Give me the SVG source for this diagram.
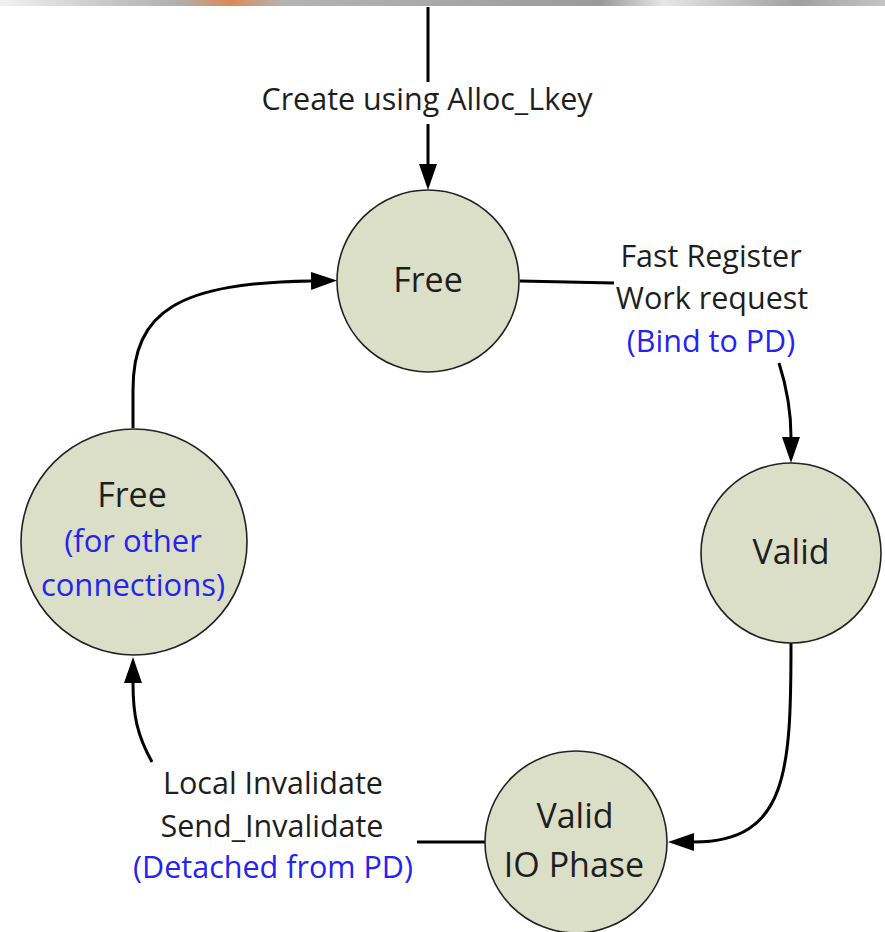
<svg xmlns="http://www.w3.org/2000/svg" width="885" height="932" viewBox="0 0 885 932">
<style>
.node{fill:#dbdfc8;stroke:#222;stroke-width:1.6}
.nt{font-family:"Open Sans","Noto Sans",sans-serif;font-size:34px;fill:#1e1e1e;text-anchor:middle}
.nb{font-family:"Open Sans","Noto Sans",sans-serif;font-size:31px;fill:#2424f2;text-anchor:middle}
.et{font-family:"Open Sans","Noto Sans",sans-serif;font-size:30.5px;fill:#1e1e1e;text-anchor:middle}
.eb{font-family:"Open Sans","Noto Sans",sans-serif;font-size:30.5px;fill:#2424f2;text-anchor:middle}
.edge{fill:none;stroke:#000;stroke-width:3}
</style>
<defs>
<marker id="arr" viewBox="0 0 26 18" markerWidth="26" markerHeight="18" refX="0" refY="9" orient="auto" markerUnits="userSpaceOnUse">
<path d="M0,0 L26,9 L0,18 z" fill="#000"/>
</marker>
<linearGradient id="band" x1="0" y1="0" x2="1" y2="0">
<stop offset="0" stop-color="#f2f2f2"/>
<stop offset="0.12" stop-color="#c8c8c8"/>
<stop offset="0.2" stop-color="#b0b0b0"/>
<stop offset="0.26" stop-color="#dc8a5a"/>
<stop offset="0.32" stop-color="#b4b4b4"/>
<stop offset="0.5" stop-color="#a8a8a8"/>
<stop offset="0.68" stop-color="#9a9a9a"/>
<stop offset="0.75" stop-color="#e6e6e6"/>
<stop offset="0.9" stop-color="#a0a0a0"/>
<stop offset="1" stop-color="#c4c4c4"/>
</linearGradient>
</defs>
<rect x="0" y="0" width="885" height="932" fill="#fff"/>
<rect x="0" y="0" width="885" height="6" fill="url(#band)"/>

<g id="connectors">
<path class="edge" d="M428,7 L428,82"/>
<path class="edge" d="M428,124 L428,164" marker-end="url(#arr)"/>
<text class="et" x="427" y="110">Create using Alloc_Lkey</text>

<path class="edge" d="M520,281 L614,283"/>
<path class="edge" d="M779,363 C786,385 791,408 791,437" marker-end="url(#arr)"/>
<text class="et" x="711" y="267">Fast Register</text>
<text class="et" x="712" y="309">Work request</text>
<text class="eb" x="711" y="352">(Bind to PD)</text>

<path class="edge" d="M791,643 C791,770 788,842 694,842" marker-end="url(#arr)"/>

<path class="edge" d="M485,842 L417,842"/>
<path class="edge" d="M152,762 C137,735 133,715 133,683" marker-end="url(#arr)"/>
<text class="et" x="273" y="794">Local Invalidate</text>
<text class="et" x="272" y="837">Send_Invalidate</text>
<text class="eb" x="273" y="878">(Detached from PD)</text>

<path class="edge" d="M133,428 L133,390 C133,310 180,283 311,281" marker-end="url(#arr)"/>
</g>

<g id="node-free">
<circle class="node" cx="428" cy="281" r="91"/>
<text class="nt" x="428" y="292">Free</text>
</g>

<g id="node-valid">
<circle class="node" cx="791" cy="553" r="90"/>
<text class="nt" x="791" y="564">Valid</text>
</g>

<g id="node-valid-io">
<circle class="node" cx="576" cy="842" r="91"/>
<text class="nt" x="575" y="828">Valid</text>
<text class="nt" x="574" y="877">IO Phase</text>
</g>

<g id="node-free-other">
<circle class="node" cx="134" cy="542" r="113"/>
<text class="nt" x="132" y="507">Free</text>
<text class="nb" x="133" y="552">(for other</text>
<text class="nb" x="133" y="596">connections)</text>
</g>
</svg>
